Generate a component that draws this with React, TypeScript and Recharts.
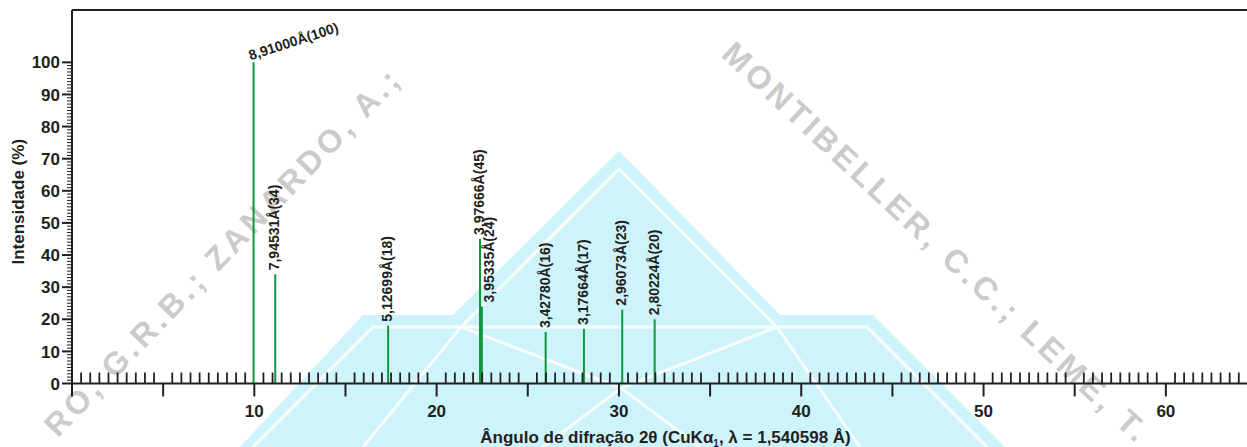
import React from 'react';
import { ComposedChart, Scatter, XAxis, YAxis, ReferenceLine } from 'recharts';

// ---- data ----
const PEAK_2THETA = [9.96, 11.15, 17.34, 22.38, 22.48, 25.98, 28.08, 30.18, 31.96];
const PEAK_INTENSITY = [100, 34, 18, 45, 24, 16, 17, 23, 20];
const PEAK_D_SPACING = ['8,91000', '7,94531', '5,12699', '3,97666', '3,95335', '3,42780', '3,17664', '2,96073', '2,80224'];
const X_LABELLED_TICKS = [10, 20, 30, 40, 50, 60];
const Y_LABELLED_TICKS = [0, 10, 20, 30, 40, 50, 60, 70, 80, 90, 100];
const X_DOMAIN: [number, number] = [0, 64.45];
const Y_DOMAIN: [number, number] = [0, 116.3];
const X_TITLE_MAIN = 'Ângulo de difração 2θ (CuKα';
const X_TITLE_SUB = '1';
const X_TITLE_END = ', λ = 1,540598 Å)';
const Y_TITLE = 'Intensidade (%)';

const PEAKS = PEAK_2THETA.map((theta, i) => ({
  theta,
  intensity: PEAK_INTENSITY[i],
  label: `${PEAK_D_SPACING[i]}Å(${PEAK_INTENSITY[i]})`,
  // a label whose peak nearly coincides with the previous one is nudged aside
  crowded: i > 0 && theta - PEAK_2THETA[i - 1] < 0.3,
}));
const MAX_INTENSITY = Math.max(...PEAK_INTENSITY);

// minor ticks: every 0.5° on x, every 1 % on y
const X_TICKS: number[] = [];
for (let i = 0; i <= 128; i++) X_TICKS.push(i / 2);
const Y_TICKS: number[] = [];
for (let i = 0; i <= 100; i++) Y_TICKS.push(i);

const FONT = '"Liberation Sans", Arial, Helvetica, sans-serif';
const INK = '#231f20';
const GREEN = '#11963f';

const XTick = (props: any) => {
  const { x, y, payload } = props;
  const v = payload.value;
  const isMajor = Math.abs(v % 5) < 1e-9;
  if (isMajor) {
    const labelled = X_LABELLED_TICKS.includes(v);
    return (
      <g>
        <line x1={x} y1={y} x2={x} y2={y + 13} stroke={INK} strokeWidth={2} />
        {labelled && (
          <text x={x} y={y + 33} textAnchor="middle" fontFamily={FONT} fontWeight="bold" fontSize={17} fill={INK}>
            {v}
          </text>
        )}
      </g>
    );
  }
  return <line x1={x} y1={y} x2={x} y2={y - 11} stroke={INK} strokeWidth={1.8} />;
};

const YTick = (props: any) => {
  const { x, y, payload } = props;
  const v = payload.value;
  if (Y_LABELLED_TICKS.includes(v)) {
    return (
      <g>
        <line x1={x - 10} y1={y} x2={x} y2={y} stroke={INK} strokeWidth={2} />
        <text x={x - 12} y={y} dy="0.36em" textAnchor="end" fontFamily={FONT} fontWeight="bold" fontSize={17} fill={INK}>
          {v}
        </text>
      </g>
    );
  }
  return <line x1={x - 5} y1={y} x2={x} y2={y} stroke={INK} strokeWidth={1} />;
};

const PeakLabel = (props: any) => {
  const { cx, cy, payload } = props;
  if (cx == null || cy == null || !payload) return <g />;
  if (payload.intensity === MAX_INTENSITY) {
    return (
      <text
        transform={`translate(${cx - 3},${cy - 2}) rotate(-18)`}
        fontFamily={FONT}
        fontWeight="bold"
        fontSize={14}
        fill={INK}
      >
        {payload.label}
      </text>
    );
  }
  const dx = payload.crowded ? 12 : 4;
  return (
    <text
      transform={`translate(${cx + dx},${cy - 4}) rotate(-90)`}
      fontFamily={FONT}
      fontWeight="bold"
      fontSize={14}
      fill={INK}
    >
      {payload.label}
    </text>
  );
};

const YTitle = (props: any) => {
  const vb = props.viewBox || { x: 0, y: 10, width: 72, height: 373 };
  const cx = vb.x + 24;
  const cy = vb.y + vb.height / 2 + 5;
  return (
    <text
      transform={`translate(${cx},${cy}) rotate(-90)`}
      textAnchor="middle"
      fontFamily={FONT}
      fontWeight="bold"
      fontSize={17}
      fill={INK}
    >
      {Y_TITLE}
    </text>
  );
};

const XTitle = (props: any) => {
  const vb = props.viewBox || { x: 72, y: 383, width: 1175, height: 64 };
  const cx = vb.x + vb.width / 2 + 6;
  const cy = vb.y + 59;
  return (
    <text x={cx} y={cy} textAnchor="middle" fontFamily={FONT} fontWeight="bold" fontSize={17} fill={INK}>
      {X_TITLE_MAIN}
      <tspan fontSize={10} dy={4}>{X_TITLE_SUB}</tspan>
      <tspan dy={-4}>{X_TITLE_END}</tspan>
    </text>
  );
};

const Watermark = () => (
  <svg width={1247} height={447} style={{ position: 'absolute', left: 0, top: 0 }}>
    <polygon points="240,447 363,315 453,315 619,151 780,315 873,315 1005,447" fill="#cdf4fb" />
    <g stroke="#ffffff" strokeWidth={3} fill="none" opacity={0.9}>
      <polyline points="253,447 373,327 867,327 987,447" />
      <polyline points="461,327 619,169 777,327" />
      <line x1={461} y1={327} x2={363} y2={447} />
      <polyline points="461,327 621,388 700,447" />
      <polyline points="777,327 621,388 543,447" />
      <line x1={777} y1={327} x2={860} y2={447} />
    </g>
    <g fontFamily={FONT} fontWeight="bold" fontSize={32} fill="#cbcbcb" letterSpacing={4}>
      <text x={720} y={56} transform="rotate(43 720 56)">MONTIBELLER, C.C.; LEME, T.</text>
      <text x={404} y={80} textAnchor="end" transform="rotate(-46 404 80)">RO, G.R.B.; ZANARDO, A.;</text>
    </g>
  </svg>
);

export default function App() {
  return (
    <div style={{ position: 'absolute', left: 0, top: 0, width: 1247, height: 447, background: '#fff' }}>
      <Watermark />
      <div style={{ position: 'absolute', left: 0, top: 0 }}>
        <ComposedChart width={1247} height={447} margin={{ top: 10, right: 0, bottom: 0, left: 0 }}>
          <XAxis
            dataKey="theta"
            type="number"
            domain={X_DOMAIN}
            ticks={X_TICKS}
            interval={0}
            allowDataOverflow
            height={63.5}
            tickSize={0}
            tickMargin={0}
            tickLine={false}
            tick={XTick}
            axisLine={{ stroke: INK, strokeWidth: 2 }}
            label={XTitle}
          />
          <YAxis
            dataKey="intensity"
            type="number"
            domain={Y_DOMAIN}
            ticks={Y_TICKS}
            interval={0}
            allowDataOverflow
            width={72}
            tickSize={0}
            tickMargin={0}
            tickLine={false}
            tick={YTick}
            axisLine={{ stroke: INK, strokeWidth: 2 }}
            label={YTitle}
          />
          <ReferenceLine y={Y_DOMAIN[1]} stroke={INK} strokeWidth={2} ifOverflow="visible" />
          {PEAKS.map((p) => (
            <ReferenceLine
              key={p.label}
              segment={[
                { x: p.theta, y: 0 },
                { x: p.theta, y: p.intensity },
              ]}
              stroke={GREEN}
              strokeWidth={2}
              ifOverflow="visible"
            />
          ))}
          <Scatter data={PEAKS} dataKey="intensity" isAnimationActive={false} shape={PeakLabel} />
        </ComposedChart>
      </div>
    </div>
  );
}
